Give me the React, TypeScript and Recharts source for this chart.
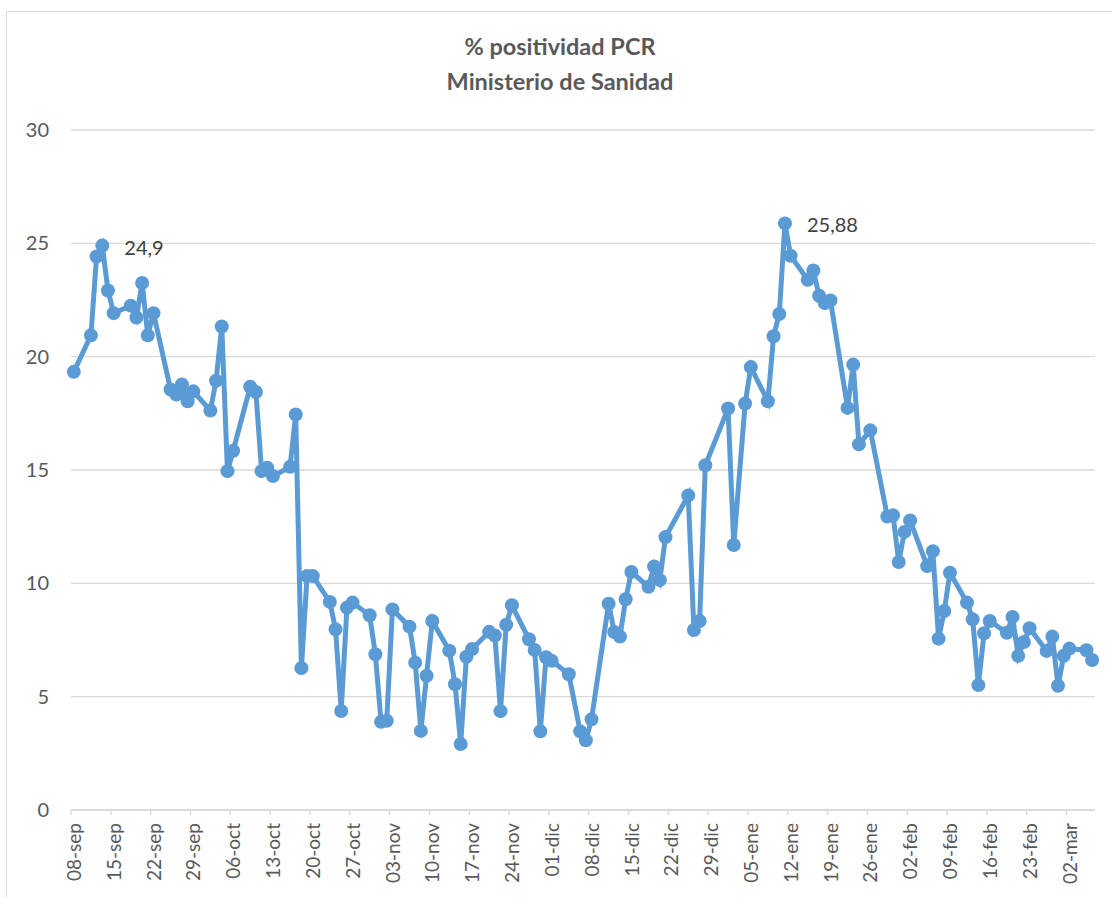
import React from 'react';
import { LineChart, Line, XAxis, YAxis, CartesianGrid, LabelList } from 'recharts';

// Day index counted from 08-sep
const days: number[] = [
  0, 3, 4, 5, 6, 7, 10, 11, 12, 13, 14, 17, 18, 19, 20, 21, 24, 25, 26, 27, 28,
  31, 32, 33, 34, 35, 38, 39, 40, 41, 42, 45, 46, 47, 48, 49, 52, 53, 54, 55, 56,
  59, 60, 61, 62, 63, 66, 67, 68, 69, 70, 73, 74, 75, 76, 77, 80, 81, 82, 83, 84,
  87, 89, 90, 91, 94, 95, 96, 97, 98, 101, 102, 103, 104, 108, 109, 110, 111,
  115, 116, 118, 119, 122, 123, 124, 125, 126, 129, 130, 131, 132, 133, 136, 137,
  138, 140, 143, 144, 145, 146, 147, 150, 151, 152, 153, 154, 157, 158, 159, 160,
  161, 164, 165, 166, 167, 168, 171, 172, 173, 174, 175, 178, 179,
];

const positividad: number[] = [
  19.33, 20.94, 24.42, 24.9, 22.92, 21.92, 22.25, 21.73, 23.25, 20.94, 21.92, 18.55, 18.33, 18.77, 18.03, 18.47, 17.62, 18.94, 21.33, 14.95, 15.85,
  18.67, 18.44, 14.95, 15.1, 14.73, 15.14, 17.45, 6.26, 10.32, 10.32, 9.18, 7.97, 4.37, 8.93, 9.15, 8.59, 6.87, 3.89, 3.94, 8.85,
  8.09, 6.5, 3.49, 5.92, 8.34, 7.03, 5.55, 2.91, 6.76, 7.1, 7.86, 7.7, 4.36, 8.17, 9.03, 7.53, 7.06, 3.47, 6.74, 6.58,
  5.99, 3.47, 3.08, 4.0, 9.1, 7.85, 7.65, 9.3, 10.5, 9.85, 10.74, 10.14, 12.04, 13.88, 7.94, 8.34, 15.21,
  17.71, 11.69, 17.93, 19.54, 18.03, 20.9, 21.88, 25.88, 24.45, 23.39, 23.8, 22.69, 22.36, 22.48, 17.74, 19.65,
  16.13, 16.75, 12.95, 13.0, 10.94, 12.27, 12.77, 10.76, 11.42, 7.56, 8.78, 10.47, 9.15, 8.41, 5.51, 7.8,
  8.34, 7.82, 8.52, 6.8, 7.41, 8.02, 7.02, 7.65, 5.48, 6.8, 7.12, 7.05, 6.62,
];

const labelledDays: number[] = [5, 125];

const tickLabels: string[] = [
  '08-sep', '15-sep', '22-sep', '29-sep', '06-oct', '13-oct', '20-oct', '27-oct',
  '03-nov', '10-nov', '17-nov', '24-nov', '01-dic', '08-dic', '15-dic', '22-dic',
  '29-dic', '05-ene', '12-ene', '19-ene', '26-ene', '02-feb', '09-feb', '16-feb',
  '23-feb', '02-mar',
];

const yTicks: number[] = [0, 5, 10, 15, 20, 25, 30];

const data = days.map((d, i) => ({
  x: d + 0.5,
  y: positividad[i],
  label: labelledDays.includes(d) ? String(positividad[i]).replace('.', ',') : undefined,
}));

const xTicks = tickLabels.map((_, i) => i * 7);

const FONT = 'Lato, "Open Sans", sans-serif';

const XTick = (props: any) => {
  const { x, payload } = props;
  const idx = Math.round(payload.value / 7);
  const tx = x + 10;
  const ty = 823;
  return (
    <text
      x={tx}
      y={ty}
      transform={`rotate(-90, ${tx}, ${ty})`}
      textAnchor="end"
      fill="#595959"
      fontSize={19}
      fontFamily={FONT}
    >
      {tickLabels[idx]}
    </text>
  );
};

const renderLabel = (props: any) => {
  const { x, y, value } = props;
  if (value === undefined || value === null || value === '') return null;
  return (
    <text x={x + 22} y={y + 2} dy="0.35em" fill="#404040" fontSize={20} fontFamily={FONT}>
      {value}
    </text>
  );
};

export default function App() {
  return (
    <div
      style={{
        position: 'absolute',
        left: 0,
        top: 0,
        width: 1112,
        height: 897,
        background: '#ffffff',
        overflow: 'hidden',
        fontFamily: FONT,
      }}
    >
      <div
        style={{
          position: 'absolute',
          left: 6,
          top: 11,
          width: 1130,
          height: 920,
          border: '1px solid #D9D9D9',
        }}
      />
      <div
        style={{
          position: 'absolute',
          left: 0,
          width: 1120,
          top: 29,
          textAlign: 'center',
          fontWeight: 700,
          fontSize: 23.5,
          lineHeight: '35px',
          color: '#595959',
        }}
      >
        <div>% positividad PCR</div>
        <div>Ministerio de Sanidad</div>
      </div>
      <div style={{ position: 'absolute', left: 0, top: 0 }}>
        <LineChart
          width={1112}
          height={897}
          data={data}
          margin={{ top: 130, right: 17, bottom: 7, left: 11 }}
        >
          <CartesianGrid vertical={false} stroke="#D9D9D9" strokeWidth={1.4} />
          <XAxis
            type="number"
            dataKey="x"
            domain={[0, 180]}
            ticks={xTicks}
            interval={0}
            height={80}
            axisLine={{ stroke: '#D9D9D9', strokeWidth: 1.4 }}
            tickLine={{ stroke: '#D9D9D9', strokeWidth: 1.4 }}
            tickSize={5}
            tick={<XTick />}
          />
          <YAxis
            type="number"
            domain={[0, 30]}
            ticks={yTicks}
            width={60}
            axisLine={false}
            tickLine={false}
            tickSize={0}
            tickMargin={22}
            tick={{ fill: '#595959', fontSize: 20, fontFamily: FONT }}
            interval={0}
          />
          <Line
            type="linear"
            dataKey="y"
            stroke="#5B9BD5"
            strokeWidth={5}
            dot={{ r: 7, fill: '#5B9BD5', stroke: '#5B9BD5', strokeWidth: 0 }}
            activeDot={false}
            isAnimationActive={false}
          >
            <LabelList dataKey="label" content={renderLabel} />
          </Line>
        </LineChart>
      </div>
    </div>
  );
}
